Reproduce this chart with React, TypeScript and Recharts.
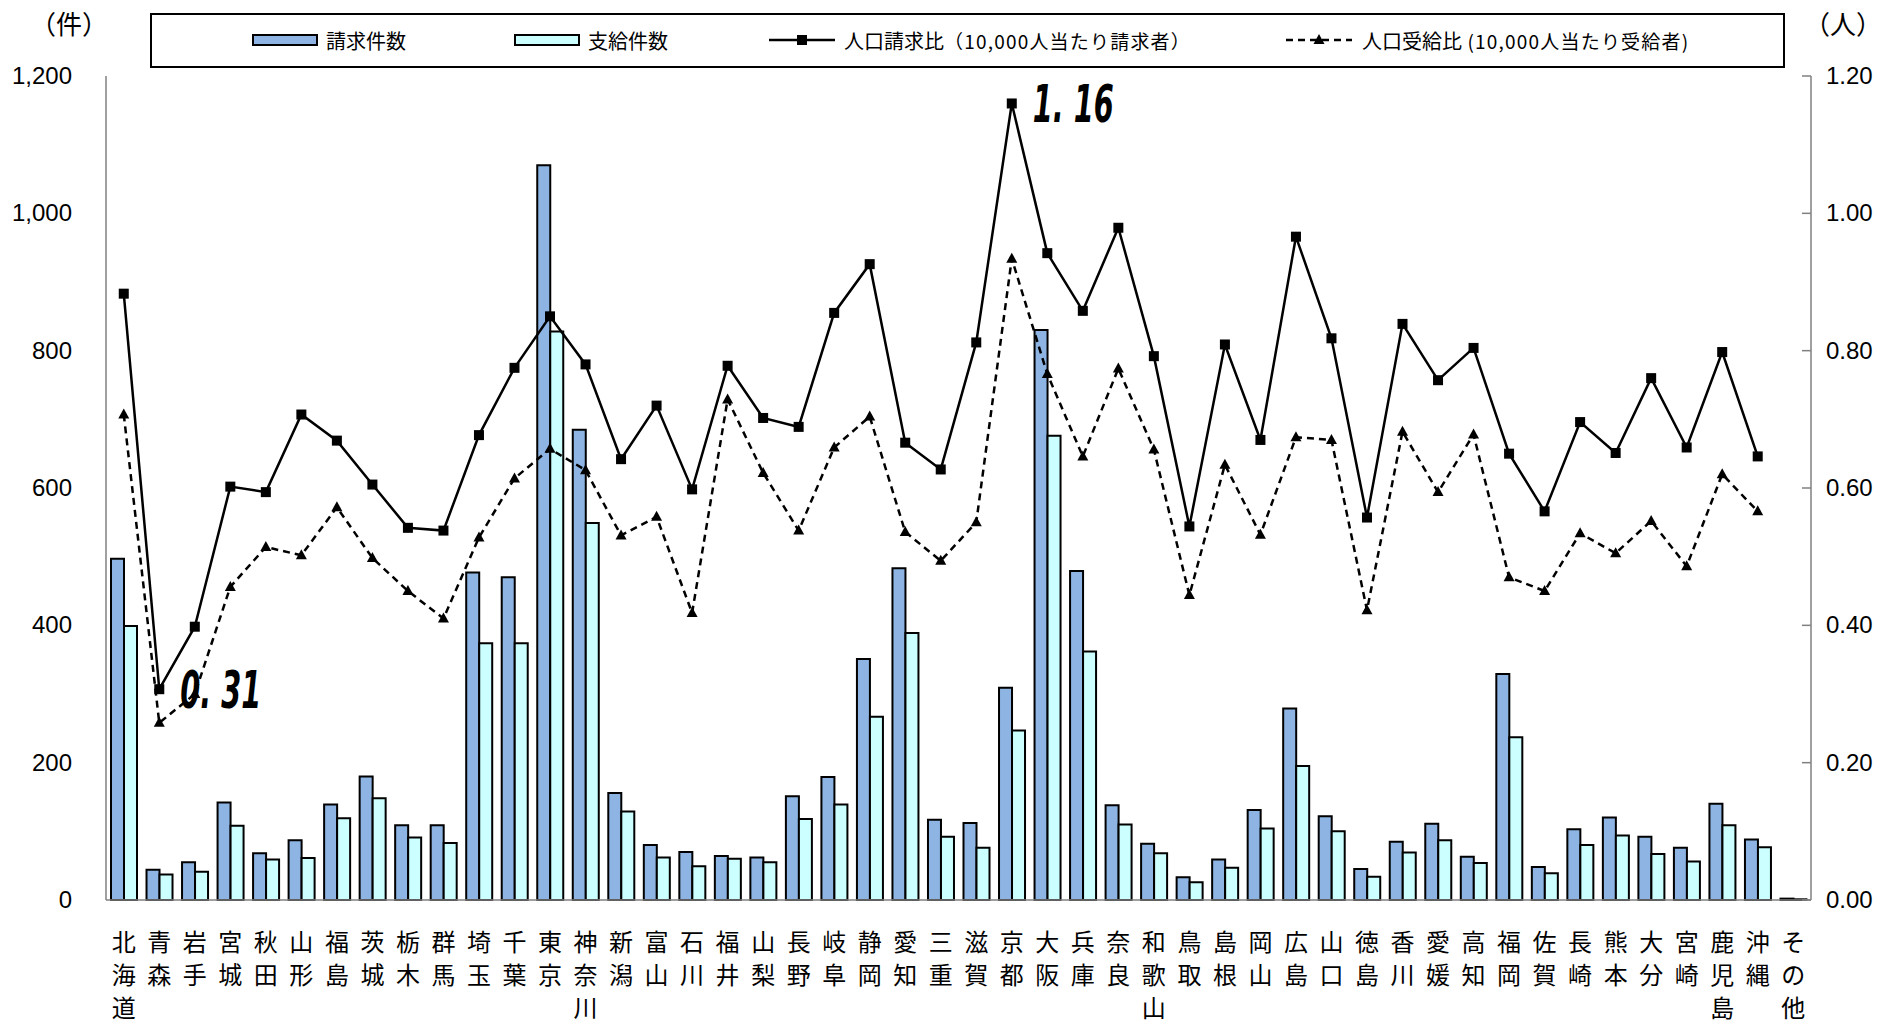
import React from 'react';
import { ComposedChart, Bar, Line, XAxis, YAxis, LabelList } from 'recharts';

const prefectures = [
  '北海道', '青森', '岩手', '宮城', '秋田', '山形', '福島', '茨城', '栃木', '群馬', '埼玉', '千葉',
  '東京', '神奈川', '新潟', '富山', '石川', '福井', '山梨', '長野', '岐阜', '静岡', '愛知', '三重',
  '滋賀', '京都', '大阪', '兵庫', '奈良', '和歌山', '鳥取', '島根', '岡山', '広島', '山口', '徳島',
  '香川', '愛媛', '高知', '福岡', '佐賀', '長崎', '熊本', '大分', '宮崎', '鹿児島', '沖縄', 'その他',
];

// 請求件数
const claims = [
  497, 44, 55, 142, 68, 87, 139, 180, 109, 109, 477, 470,
  1070, 685, 156, 80, 70, 64, 62, 151, 179, 351, 483, 117,
  112, 309, 830, 479, 138, 82, 33, 59, 131, 279, 122, 45,
  85, 111, 63, 329, 48, 103, 120, 92, 76, 140, 88, 2,
];

// 支給件数
const payments = [
  399, 37, 41, 108, 59, 61, 119, 148, 91, 83, 374, 374,
  828, 549, 129, 62, 49, 60, 55, 118, 139, 267, 389, 92,
  76, 247, 676, 362, 110, 68, 26, 47, 104, 195, 100, 34,
  69, 87, 54, 237, 39, 80, 94, 67, 56, 109, 77, 1,
];

// 人口請求比（10,000人当たり請求者）
const claimRatio = [
  0.883, 0.307, 0.398, 0.602, 0.594, 0.707, 0.669, 0.605, 0.542, 0.538, 0.677, 0.775,
  0.85, 0.78, 0.642, 0.72, 0.598, 0.778, 0.702, 0.689, 0.855, 0.926, 0.666, 0.627,
  0.812, 1.16, 0.942, 0.858, 0.979, 0.792, 0.544, 0.809, 0.67, 0.966, 0.818, 0.557,
  0.839, 0.757, 0.804, 0.65, 0.566, 0.696, 0.651, 0.76, 0.659, 0.798, 0.646, null,
];

// 人口受給比（10,000人当たり受給者）
const payRatio = [
  0.707, 0.258, 0.3, 0.456, 0.514, 0.502, 0.572, 0.498, 0.45, 0.41, 0.528, 0.614,
  0.657, 0.626, 0.531, 0.558, 0.418, 0.729, 0.622, 0.538, 0.659, 0.704, 0.536, 0.494,
  0.55, 0.934, 0.766, 0.646, 0.774, 0.656, 0.444, 0.634, 0.532, 0.674, 0.67, 0.422,
  0.682, 0.594, 0.678, 0.47, 0.45, 0.534, 0.505, 0.552, 0.486, 0.62, 0.566, null,
];

const leftTicks = [0, 200, 400, 600, 800, 1000, 1200];
const rightTicks = [0, 0.2, 0.4, 0.6, 0.8, 1.0, 1.2];

// annotated points: index -> label
const callouts: Record<number, string> = { 1: '0. 31', 25: '1. 16' };

const data = prefectures.map((name, i) => ({
  name,
  claims: claims[i],
  payments: payments[i],
  claimRatio: claimRatio[i],
  payRatio: payRatio[i],
}));

const BLUE = '#8db4e2';
const CYAN = '#ccffff';
const AXIS = '#808080';
const JP = '"Noto Sans CJK JP", "Noto Sans", sans-serif';
const NUM = '"Liberation Sans", Arial, sans-serif';

const PrefTick = (props: any) => {
  const { x, y, payload } = props;
  const chars = String(payload.value).split('');
  return (
    <g>
      {chars.map((c, i) => (
        <text key={i} x={x} y={y + 51 + i * 33} textAnchor="middle" fontSize={24} fontFamily={JP} fill="#000">
          {c}
        </text>
      ))}
    </g>
  );
};

const LeftTick = (props: any) => {
  const { x, y, payload } = props;
  return (
    <text x={x} y={y} dy={8} textAnchor="end" fontSize={24} fontFamily={NUM} fill="#000">
      {payload.value.toLocaleString('en-US')}
    </text>
  );
};

const RightTick = (props: any) => {
  const { x, y, payload } = props;
  return (
    <g>
      <line x1={x - 24} x2={x - 15} y1={y} y2={y} stroke={AXIS} strokeWidth={1.5} />
      <text x={x} y={y} dy={8} textAnchor="start" fontSize={24} fontFamily={NUM} fill="#000">
        {payload.value.toFixed(2)}
      </text>
    </g>
  );
};

const SquareDot = (props: any) => {
  const { cx, cy, index } = props;
  if (cx == null || cy == null || props.value == null) return <g key={index} />;
  return <rect key={index} x={cx - 5} y={cy - 5} width={10} height={10} fill="#000" />;
};

const TriangleDot = (props: any) => {
  const { cx, cy, index } = props;
  if (cx == null || cy == null || props.value == null) return <g key={index} />;
  return <polygon key={index} points={`${cx},${cy - 6} ${cx + 5.5},${cy + 4} ${cx - 5.5},${cy + 4}`} fill="#000" />;
};

const Callout = (props: any) => {
  const { x, y, index } = props;
  const text = callouts[index];
  if (!text) return null;
  return (
    <text
      x={x + 21}
      y={y + 19}
      fontSize={52}
      fontWeight="bold"
      fontStyle="italic"
      fontFamily={'"DejaVu Sans", sans-serif'}
      textLength={81}
      lengthAdjust="spacingAndGlyphs"
      fill="#000"
    >
      {text}
    </text>
  );
};

const LegendBox = () => {
  const txt: React.CSSProperties = { position: 'absolute', top: 12, fontSize: 20, fontFamily: JP, lineHeight: '28px', whiteSpace: 'nowrap' };
  const small: React.CSSProperties = { fontSize: 19, letterSpacing: 1.2 };
  return (
    <div style={{ position: 'absolute', left: 150, top: 13, width: 1635, height: 55, border: '2px solid #000', boxSizing: 'border-box', background: '#fff' }}>
      <svg style={{ position: 'absolute', left: 100, top: 19 }} width={68} height={14}>
        <rect x={1} y={1} width={64} height={10} fill={BLUE} stroke="#000" strokeWidth={2} />
      </svg>
      <span style={{ ...txt, left: 174 }}>請求件数</span>
      <svg style={{ position: 'absolute', left: 362, top: 19 }} width={68} height={14}>
        <rect x={1} y={1} width={64} height={10} fill={CYAN} stroke="#000" strokeWidth={2} />
      </svg>
      <span style={{ ...txt, left: 436 }}>支給件数</span>
      <svg style={{ position: 'absolute', left: 617, top: 17 }} width={66} height={16}>
        <line x1={0} x2={66} y1={8} y2={8} stroke="#000" strokeWidth={2.5} />
        <rect x={28} y={3} width={10} height={10} fill="#000" />
      </svg>
      <span style={{ ...txt, left: 692 }}>
        人口請求比<span style={small}>（10,000人当たり請求者）</span>
      </span>
      <svg style={{ position: 'absolute', left: 1134, top: 17 }} width={66} height={16}>
        <line x1={0} x2={66} y1={8} y2={8} stroke="#000" strokeWidth={2.5} strokeDasharray="7 5" />
        <polygon points="33,2 38.5,12 27.5,12" fill="#000" />
      </svg>
      <span style={{ ...txt, left: 1210 }}>
        人口受給比<span style={small}> (10,000人当たり受給者)</span>
      </span>
    </div>
  );
};

export default function App() {
  return (
    <div style={{ position: 'absolute', left: 0, top: 0, width: 1893, height: 1024, background: '#fff' }}>
      <ComposedChart
        width={1893}
        height={1024}
        data={data}
        margin={{ top: 76, right: 0, bottom: 0, left: 0 }}
        barCategoryGap={5}
        barGap={0}
      >
        <XAxis
          dataKey="name"
          interval={0}
          height={124}
          tickSize={0}
          tickMargin={0}
          tickLine={false}
          axisLine={{ stroke: AXIS, strokeWidth: 1.5 }}
          tick={<PrefTick />}
        />
        <YAxis
          yAxisId="count"
          orientation="left"
          width={106}
          domain={[0, 1200]}
          ticks={leftTicks}
          tickSize={0}
          tickMargin={34}
          tickLine={false}
          axisLine={{ stroke: AXIS, strokeWidth: 1.5 }}
          tick={<LeftTick />}
        />
        <YAxis
          yAxisId="ratio"
          orientation="right"
          width={82}
          domain={[0, 1.2]}
          ticks={rightTicks}
          tickSize={0}
          tickMargin={15}
          tickLine={false}
          axisLine={{ stroke: AXIS, strokeWidth: 1.5 }}
          tick={<RightTick />}
        />
        <Bar yAxisId="count" dataKey="claims" name="請求件数" fill={BLUE} stroke="#000" strokeWidth={2} isAnimationActive={false} />
        <Bar yAxisId="count" dataKey="payments" name="支給件数" fill={CYAN} stroke="#000" strokeWidth={2} isAnimationActive={false} />
        <Line
          yAxisId="ratio"
          dataKey="payRatio"
          name="人口受給比"
          stroke="#000"
          strokeWidth={2.5}
          strokeDasharray="7 5"
          dot={<TriangleDot />}
          activeDot={false}
          isAnimationActive={false}
        />
        <Line
          yAxisId="ratio"
          dataKey="claimRatio"
          name="人口請求比"
          stroke="#000"
          strokeWidth={2.5}
          dot={<SquareDot />}
          activeDot={false}
          isAnimationActive={false}
        >
          <LabelList dataKey="claimRatio" content={<Callout />} />
        </Line>
      </ComposedChart>
      <LegendBox />
      <div style={{ position: 'absolute', left: 30, top: 4, fontSize: 26, fontFamily: JP }}>（件）</div>
      <div style={{ position: 'absolute', left: 1804, top: 4, fontSize: 26, fontFamily: JP }}>（人）</div>
    </div>
  );
}
